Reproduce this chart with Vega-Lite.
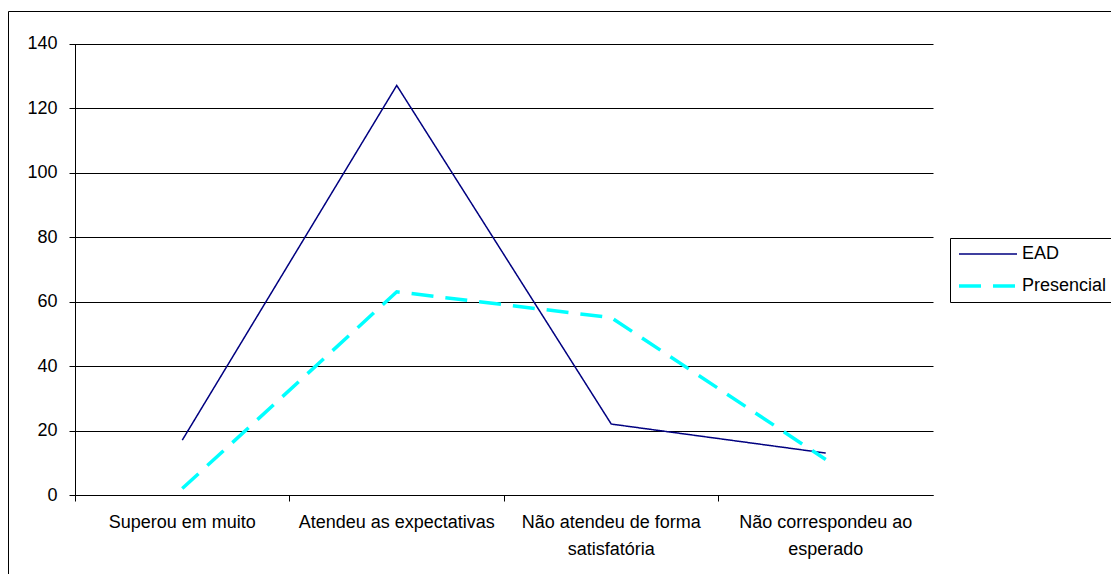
{
  "$schema": "https://vega.github.io/schema/vega-lite/v6.json",
  "autosize": {"type": "none"},
  "padding": {"left": 8, "top": 11, "right": 0, "bottom": 0},
  "width": 1110,
  "height": 580,
  "background": "white",
  "config": {
    "font": "Liberation Sans",
    "view": {"stroke": "black", "strokeWidth": 1, "fill": "white"},
    "legend": {
      "title": null,
      "orient": "none",
      "legendX": 942,
      "legendY": 227,
      "padding": 7,
      "strokeColor": "black",
      "fillColor": "white",
      "symbolType": "stroke",
      "symbolSize": 3364,
      "clipHeight": 18,
      "labelFontSize": 18,
      "labelColor": "black",
      "labelOffset": 3,
      "rowPadding": 14
    }
  },
  "data": {
    "values": [
      {"categoria": "Superou em muito", "serie": "EAD", "valor": 17},
      {"categoria": "Atendeu as expectativas", "serie": "EAD", "valor": 127},
      {"categoria": "Não atendeu de forma satisfatória", "serie": "EAD", "valor": 22},
      {"categoria": "Não correspondeu ao esperado", "serie": "EAD", "valor": 13},
      {"categoria": "Superou em muito", "serie": "Presencial", "valor": 2},
      {"categoria": "Atendeu as expectativas", "serie": "Presencial", "valor": 63},
      {"categoria": "Não atendeu de forma satisfatória", "serie": "Presencial", "valor": 55},
      {"categoria": "Não correspondeu ao esperado", "serie": "Presencial", "valor": 11}
    ]
  },
  "mark": {"type": "line", "strokeCap": "butt"},
  "encoding": {
    "x": {
      "field": "categoria",
      "type": "nominal",
      "sort": null,
      "scale": {"type": "band", "range": [67, 925], "paddingInner": 0, "paddingOuter": 0},
      "axis": {
        "title": null,
        "orient": "bottom",
        "offset": -96,
        "bandPosition": 0,
        "grid": false,
        "domainColor": "black",
        "domainWidth": 1,
        "tickColor": "black",
        "tickSize": 6,
        "labelAngle": 0,
        "labelFontSize": 18,
        "labelColor": "black",
        "labelPadding": 12,
        "labelLineHeight": 27,
        "labelLimit": 0,
        "labelOverlap": false,
        "labelExpr": "datum.label == 'Não atendeu de forma satisfatória' ? ['Não atendeu de forma', 'satisfatória'] : datum.label == 'Não correspondeu ao esperado' ? ['Não correspondeu ao', 'esperado'] : datum.label"
      }
    },
    "y": {
      "field": "valor",
      "type": "quantitative",
      "scale": {"domain": [0, 140], "range": [484, 32.5], "nice": false},
      "axis": {
        "title": null,
        "orient": "left",
        "offset": -67,
        "values": [0, 20, 40, 60, 80, 100, 120, 140],
        "grid": true,
        "gridColor": "black",
        "gridWidth": 1,
        "domainColor": "black",
        "tickColor": "black",
        "tickSize": 6,
        "labelFontSize": 18,
        "labelColor": "black",
        "labelPadding": 12
      }
    },
    "color": {
      "field": "serie",
      "type": "nominal",
      "scale": {"domain": ["EAD", "Presencial"], "range": ["#000080", "#00FFFF"]}
    },
    "strokeDash": {
      "field": "serie",
      "type": "nominal",
      "scale": {"domain": ["EAD", "Presencial"], "range": [[1, 0], [22, 12]]}
    },
    "strokeWidth": {
      "field": "serie",
      "type": "nominal",
      "scale": {"domain": ["EAD", "Presencial"], "range": [1.5, 3.5]}
    }
  }
}
